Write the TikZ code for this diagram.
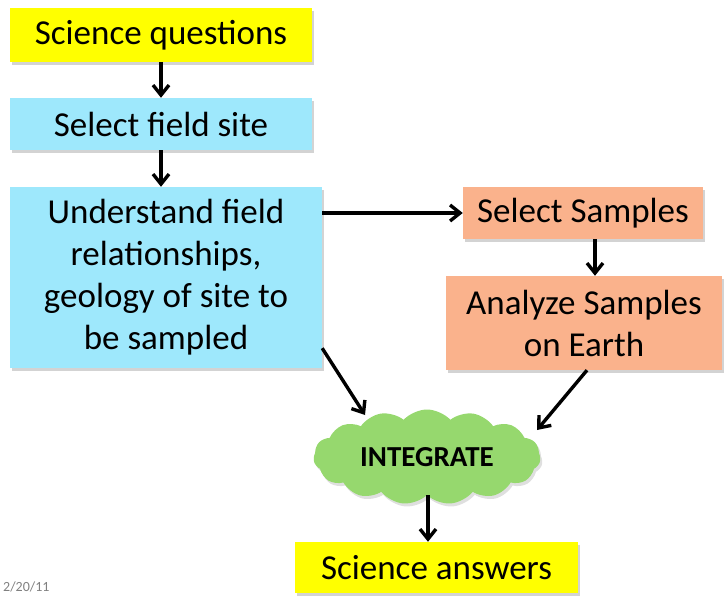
\documentclass[tikz,border=0pt]{standalone}
\usepackage{fontspec}
\setmainfont{Carlito}
\usetikzlibrary{arrows.meta,shapes.symbols,shadows,calc}
\definecolor{qyellow}{RGB}{255,255,0}
\definecolor{sblue}{RGB}{158,232,252}
\definecolor{ssalmon}{RGB}{250,178,140}
\definecolor{cgreen}{RGB}{150,216,110}
\begin{document}
\begin{tikzpicture}[x=1pt,y=-1pt,
  boxbase/.style={rectangle, inner sep=0pt, align=center, text=black,
    font=\fontsize{35}{42}\selectfont,
    drop shadow={shadow xshift=2pt, shadow yshift=-3pt, opacity=0.35, fill=gray}},
  ybox/.style={boxbase, fill=qyellow},
  bbox/.style={boxbase, fill=sblue},
  obox/.style={boxbase, fill=ssalmon},
  arr/.style={-{Straight Barb[length=10pt,width=16pt,line width=3.4pt]}, line width=3.4pt, black}
]
\useasboundingbox (0,0) rectangle (724,597);
\node[ybox, minimum width=302pt, minimum height=54pt] (q) at (161,35) {Science questions};
\node[bbox, minimum width=302pt, minimum height=52pt] (s) at (161,124) {Select field site};
\node[bbox, minimum width=312pt, minimum height=181pt] (u) at (166,277.5) {Understand field\\relationships,\\geology of site to\\be sampled};
\node[obox, minimum width=240pt, minimum height=52pt] (ss) at (583,213) {Select Samples};
\node[obox, minimum width=276pt, minimum height=94pt] (a) at (584,323) {Analyze Samples\\on Earth};
\node[cloud, cloud puffs=15, cloud puff arc=95, aspect=2.4, fill=cgreen, inner sep=0pt,
  minimum width=227pt, minimum height=95pt,
  drop shadow={shadow xshift=2pt, shadow yshift=-3pt, opacity=0.25, fill=gray},
  font=\fontsize{29}{32}\selectfont\bfseries] (c) at (427,457) {INTEGRATE};
\node[ybox, minimum width=283pt, minimum height=51pt] (ans) at (436.5,567.5) {Science answers};
\node[anchor=south west, text=gray, font=\fontsize{14}{15}\selectfont, inner sep=0pt] (date) at (3,592) {2/20/11};
\coordinate (c1) at (365,415);
\coordinate (c2) at (537,430);
\draw[arr] (q.south) -- (s.north);
\draw[arr] (s.south) -- (s.south |- u.north);
\draw[arr] (ss.west -| u.east) -- (ss.west);
\draw[arr] ([xshift=12pt]ss.south) -- ([xshift=12pt]ss.south |- a.north);
\draw[arr] ([yshift=20pt]u.south east) -- (c1);
\draw[arr] ([xshift=3pt]a.south) -- (c2);
\draw[arr] ([xshift=1pt]c.south) -- ([xshift=1pt]c.south |- ans.north);
\end{tikzpicture}
\end{document}
